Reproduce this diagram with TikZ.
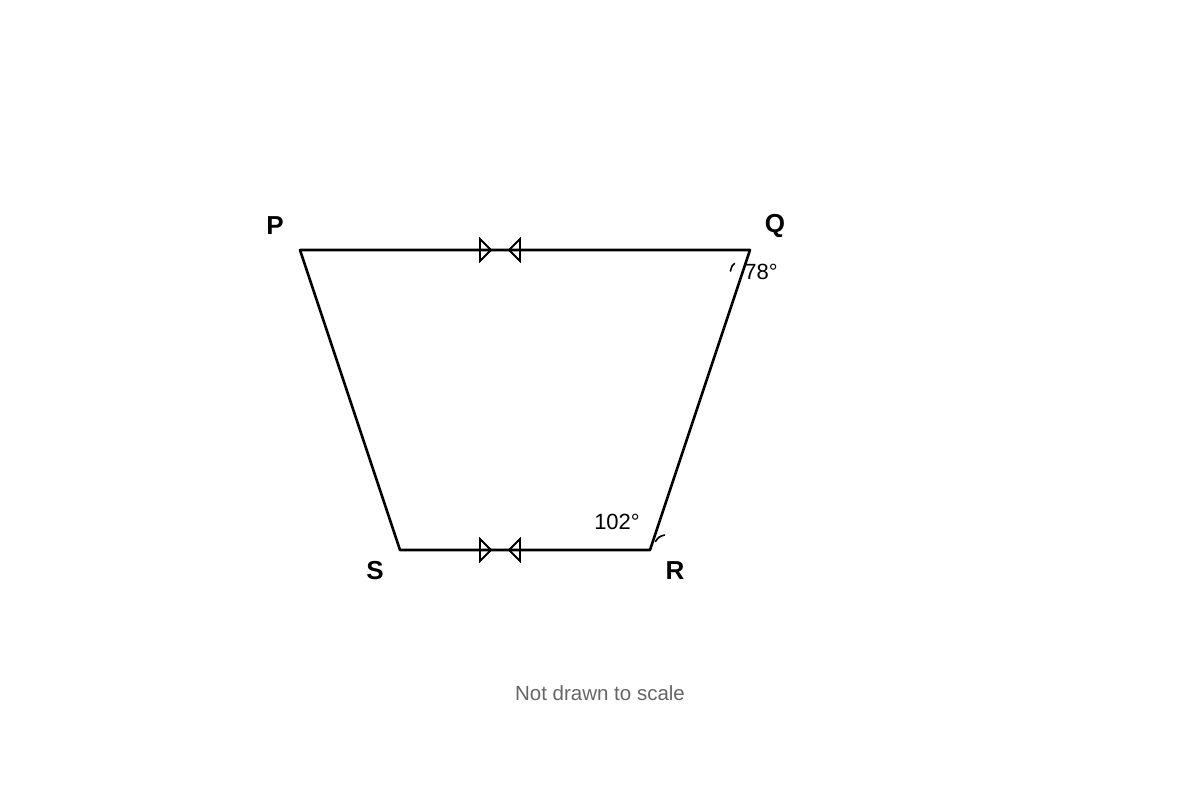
\documentclass[tikz,border=0pt]{standalone}
\usepackage{fontspec}
\setmainfont{Liberation Sans}
\begin{document}
\begin{tikzpicture}[x=1pt,y=-1pt,
  edge/.style={line width=2.6pt,line cap=round,line join=round},
  tick/.style={line width=1.8pt,line join=miter},
  anglemark/.style={line width=1.6pt,line cap=round},
  vlabel/.style={font=\fontsize{26}{30}\selectfont\bfseries,inner sep=0pt},
  alabel/.style={font=\fontsize{22}{26}\selectfont,inner sep=0pt},
  note/.style={font=\fontsize{20.5}{24}\selectfont,text=black!60,inner sep=0pt}]
\useasboundingbox (0,0) rectangle (1200,800);
\fill[white] (0,0) rectangle (1200,800);
\coordinate (P) at (300,250);
\coordinate (Q) at (750,250);
\coordinate (R) at (650,550);
\coordinate (S) at (400,550);
\draw[edge] (P) -- (Q) -- (R) -- (S) -- cycle;
% parallel marks
\foreach \yy in {250,550}{
  \draw[tick] (480,\yy-11) -- (491,\yy) -- (480,\yy+11) -- cycle;
  \draw[tick] (520,\yy-11) -- (509,\yy) -- (520,\yy+11) -- cycle;
}
% angle marks
\coordinate (q1) at (734.5,263.5);
\coordinate (q2) at (730.5,271);
\draw[anglemark] (q1) .. controls (732,265.5) .. (q2);
\coordinate (r1) at (655.5,541.5);
\coordinate (r2) at (664.5,535);
\draw[anglemark] (r1) .. controls (658.5,537) .. (r2);
% labels
\node[vlabel] (lP) at (275,226) {P};
\node[vlabel] (lQ) at (775,226) {Q};
\node[vlabel] (lR) at (675,571) {R};
\node[vlabel] (lS) at (375,571) {S};
\node[alabel] (aQ) at (761,272) {78°};
\node[alabel] (aR) at (617,522) {102°};
\node[note] (nt) at (600,693) {Not drawn to scale};
\end{tikzpicture}
\end{document}
